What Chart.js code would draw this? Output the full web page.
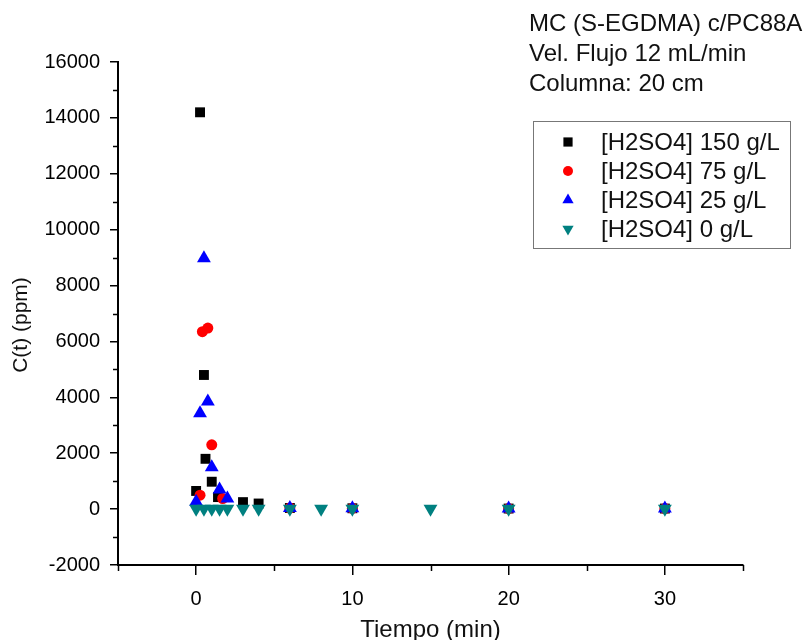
<!DOCTYPE html>
<html>
<head>
<meta charset="utf-8">
<script src="https://cdn.jsdelivr.net/npm/chart.js@4.4.1/dist/chart.umd.min.js"></script>
<style>
  html, body { margin: 0; padding: 0; background: #fff; }
</style>
</head>
<body>
<canvas id="chart" width="807" height="640"></canvas>
<script>
// text shown on the chart
var headerLines = ['MC (S-EGDMA) c/PC88A', 'Vel. Flujo 12 mL/min', 'Columna: 20 cm'];
var seriesNames = ['[H2SO4] 150 g/L', '[H2SO4] 75 g/L', '[H2SO4] 25 g/L', '[H2SO4] 0 g/L'];
var xTitle = 'Tiempo (min)';
var yTitle = 'C(t) (ppm)';

// axis ticks
var xTicks = [0, 10, 20, 30];
var xMinorTicks = [-5, 5, 15, 25, 35];
var yMinorTicks = [-1000, 1000, 3000, 5000, 7000, 9000, 11000, 13000, 15000];

// [H2SO4] 150 g/L
var time150 = [0, 0.25, 0.5, 0.6, 1, 1.4, 3, 4, 6, 10, 20, 30];
var conc150 = [650, 14200, 4800, 1800, 980, 430, 250, 200, 40, 30, 20, 20];
// [H2SO4] 75 g/L
var time75 = [0.25, 0.4, 0.75, 1, 1.7, 6, 10, 20, 30];
var conc75 = [500, 6350, 6480, 2300, 380, 40, 30, 20, 20];
// [H2SO4] 25 g/L
var time25 = [0, 0.25, 0.5, 0.75, 1, 1.5, 2, 6, 10, 20, 30];
var conc25 = [260, 3430, 8980, 3850, 1500, 700, 380, 40, 30, 20, 20];
// [H2SO4] 0 g/L
var time0 = [0, 0.5, 1, 1.5, 2, 3, 4, 6, 8, 10, 15, 20, 30];
var conc0 = [10, 10, 10, 10, 10, 10, 10, 10, 10, 10, 10, 10, 10];

var seriesColors = ['#000000', '#ff0000', '#0000ff', '#008080'];
var fontFamily = '"Liberation Sans", Arial, sans-serif';

function pts(xs, ys) {
  return xs.map(function (x, i) { return { x: x, y: ys[i] }; });
}

Chart.defaults.color = '#000';
Chart.defaults.font.family = fontFamily;

// minor ticks, y title, header text and the boxed legend inside the plot
var annotations = {
  id: 'annotations',
  afterDraw: function (chart) {
    var ctx = chart.ctx;
    var x = chart.scales.x, y = chart.scales.y;
    var area = chart.chartArea;
    ctx.save();
    ctx.strokeStyle = '#000';
    ctx.lineWidth = 1.5;
    ctx.beginPath();
    xMinorTicks.forEach(function (v) {
      var px = Math.round(x.getPixelForValue(v)) + 0.5;
      ctx.moveTo(px, area.bottom);
      ctx.lineTo(px, area.bottom + 6);
    });
    yMinorTicks.forEach(function (v) {
      var py = Math.round(y.getPixelForValue(v)) + 0.5;
      ctx.moveTo(area.left, py);
      ctx.lineTo(area.left - 5, py);
    });
    ctx.stroke();

    ctx.fillStyle = '#111';
    ctx.textBaseline = 'middle';

    // y axis title
    ctx.save();
    ctx.translate(21, 325);
    ctx.rotate(-Math.PI / 2);
    ctx.textAlign = 'center';
    ctx.font = '21px ' + fontFamily;
    ctx.fillText(yTitle, 0, 0);
    ctx.restore();

    // header
    ctx.font = '24px ' + fontFamily;
    ctx.textAlign = 'left';
    headerLines.forEach(function (line, i) {
      ctx.fillText(line, 529, 24 + i * 30);
    });

    // legend
    ctx.strokeStyle = '#777';
    ctx.lineWidth = 1;
    ctx.strokeRect(533.5, 121.5, 257, 127);
    chart.data.datasets.forEach(function (ds, i) {
      var ly = 142 + i * 29;
      ctx.fillStyle = ds.backgroundColor;
      Chart.helpers.drawPoint(ctx, {
        pointStyle: ds.pointStyle,
        rotation: ds.pointRotation || 0,
        radius: ds.pointStyle === 'circle' ? 5 : 6.5,
        borderWidth: 0
      }, 568, ly);
      ctx.fillStyle = '#111';
      ctx.fillText(seriesNames[i], 601, ly + 1);
    });
    ctx.restore();
  }
};

new Chart(document.getElementById('chart'), {
  type: 'scatter',
  data: {
    datasets: [
      { label: seriesNames[0], data: pts(time150, conc150), pointStyle: 'rect', pointRadius: 7, order: 4 },
      { label: seriesNames[1], data: pts(time75, conc75), pointStyle: 'circle', pointRadius: 5.5, order: 3 },
      { label: seriesNames[2], data: pts(time25, conc25), pointStyle: 'triangle', pointRadius: 8, order: 2 },
      { label: seriesNames[3], data: pts(time0, conc0), pointStyle: 'triangle', pointRotation: 180, pointRadius: 8, order: 1 }
    ].map(function (ds, i) {
      ds.backgroundColor = seriesColors[i];
      ds.borderColor = seriesColors[i];
      ds.borderWidth = 0;
      ds.pointHoverRadius = ds.pointRadius;
      return ds;
    })
  },
  options: {
    responsive: false,
    animation: false,
    layout: { padding: { top: 62, right: 64, left: 0, bottom: 0 } },
    plugins: {
      legend: { display: false },
      title: { display: false },
      tooltip: { enabled: false }
    },
    scales: {
      x: {
        type: 'linear',
        min: -5,
        max: 35,
        afterBuildTicks: function (scale) {
          scale.ticks = xTicks.map(function (v) { return { value: v }; });
        },
        afterFit: function (scale) { scale.height = 75; },
        grid: { display: true, drawOnChartArea: false, tickLength: 10, color: '#000', lineWidth: 1.5 },
        border: { display: true, color: '#000', width: 2 },
        ticks: { font: { size: 20 }, padding: 12, maxRotation: 0 },
        title: { display: true, text: xTitle, font: { size: 24 }, color: '#111', padding: { top: 0, bottom: -5 } }
      },
      y: {
        type: 'linear',
        min: -2000,
        max: 16000,
        afterFit: function (scale) { scale.width = 118; },
        grid: { display: true, drawOnChartArea: false, tickLength: 8, color: '#000', lineWidth: 1.5 },
        border: { display: true, color: '#000', width: 2 },
        ticks: {
          stepSize: 2000,
          font: { size: 20 },
          padding: 10,
          callback: function (v) { return String(v); }
        },
        title: { display: false }
      }
    }
  },
  plugins: [annotations]
});
</script>
</body>
</html>
